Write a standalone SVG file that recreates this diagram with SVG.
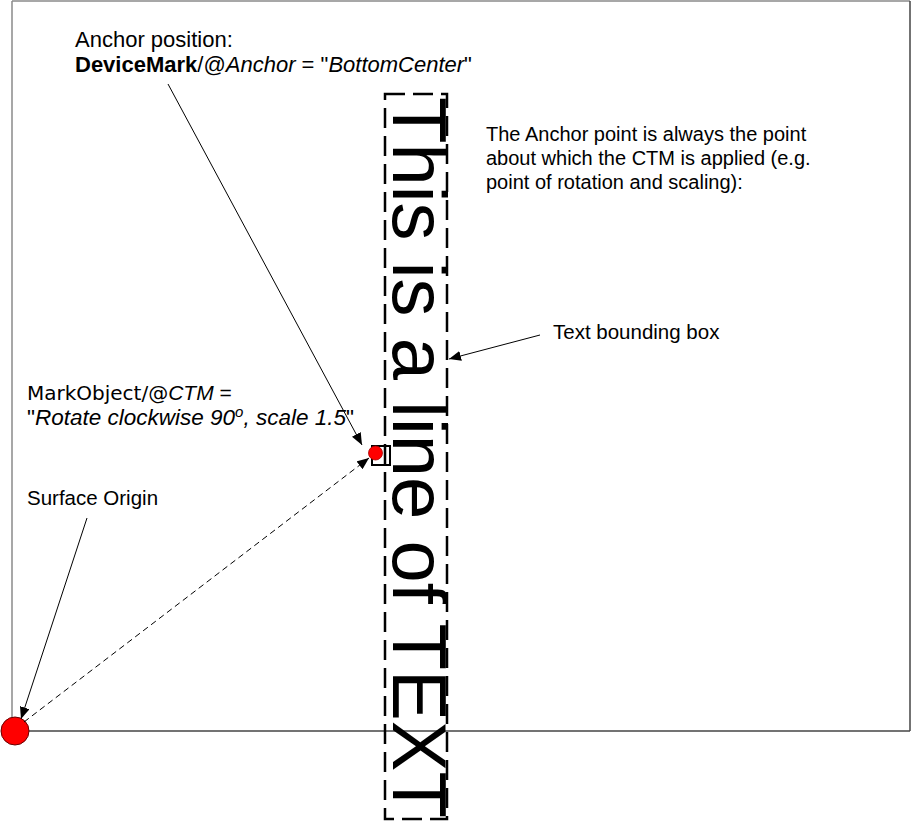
<svg xmlns="http://www.w3.org/2000/svg" width="912" height="823" viewBox="0 0 912 823">
<defs>
<style>
.t{font-family:"Liberation Sans",Arial,sans-serif;font-size:20px;fill:#000}
.v{font-family:"DejaVu Sans",Verdana,sans-serif}
.i{font-style:italic}
.b{font-weight:bold}
.ln{stroke:#000;stroke-width:1;fill:none}
</style>
<marker id="ah" viewBox="0 0 12 10" refX="12" refY="5" markerWidth="12" markerHeight="10" markerUnits="userSpaceOnUse" orient="auto">
<path d="M0,0 L12,5 L0,10 z" fill="#000"/>
</marker>
</defs>
<rect width="912" height="823" fill="#fff"/>
<g id="surface">
<line x1="12" y1="1" x2="910" y2="1" stroke="#8a8a8a" stroke-width="1.5"/>
<line x1="12" y1="1" x2="12" y2="731" stroke="#8a8a8a" stroke-width="1.5"/>
<line x1="910" y1="1" x2="910" y2="731" stroke="#444" stroke-width="1.5"/>
<line x1="12" y1="731" x2="910" y2="731" stroke="#444" stroke-width="1.5"/>
</g>
<g id="text-box">
<rect x="385" y="94" width="62" height="725" fill="none" stroke="#000" stroke-width="2.5" stroke-dasharray="20 8"/>
<text class="t" style="font-size:76px" transform="translate(393,97) rotate(90)">This is a line of TEXT</text>
</g>
<g id="anchor">
<rect x="372" y="446" width="18" height="19" fill="none" stroke="#000" stroke-width="2"/>
<circle cx="375.5" cy="453" r="7" fill="#f00" stroke="#a00" stroke-width="0.8"/>
</g>
<g id="origin">
<circle cx="15" cy="731" r="14" fill="#f00" stroke="#600" stroke-width="1"/>
</g>
<g id="connectors">
<line class="ln" x1="168" y1="84" x2="362" y2="445" marker-end="url(#ah)"/>
<line class="ln" x1="87" y1="518" x2="21" y2="719" marker-end="url(#ah)"/>
<line class="ln" x1="24" y1="722" x2="369" y2="458" stroke-dasharray="6 4" marker-end="url(#ah)"/>
<line class="ln" x1="540" y1="335" x2="449" y2="359" marker-end="url(#ah)"/>
</g>
<g id="label-anchor">
<text class="t" style="font-size:22px" x="75" y="47">Anchor position:</text>
<text class="t" style="font-size:22px" x="75" y="72"><tspan class="b">DeviceMark</tspan>/@<tspan class="i">Anchor</tspan> = "<tspan class="i">BottomCenter</tspan>"</text>
</g>
<g id="label-note">
<text class="t" x="486" y="141">The Anchor point is always the point</text>
<text class="t" x="486" y="165">about which the CTM is applied (e.g.</text>
<text class="t" x="486" y="189">point of rotation and scaling):</text>
</g>
<g id="label-bbox">
<text class="t" style="font-size:20.5px" x="553" y="339">Text bounding box</text>
</g>
<g id="label-ctm">
<text class="t" style="font-size:21px" x="27" y="400"><tspan class="v" style="font-size:20px">MarkObject/@</tspan><tspan class="i">CTM</tspan> =</text>
<text class="t" style="font-size:22.5px" x="27" y="425">"<tspan class="i">Rotate clockwise 90<tspan style="font-size:15px" dy="-8">o</tspan><tspan dy="8">, scale 1.5</tspan></tspan>"</text>
</g>
<g id="label-origin">
<text class="t" style="font-size:20.5px" x="27" y="505">Surface Origin</text>
</g>
</svg>
